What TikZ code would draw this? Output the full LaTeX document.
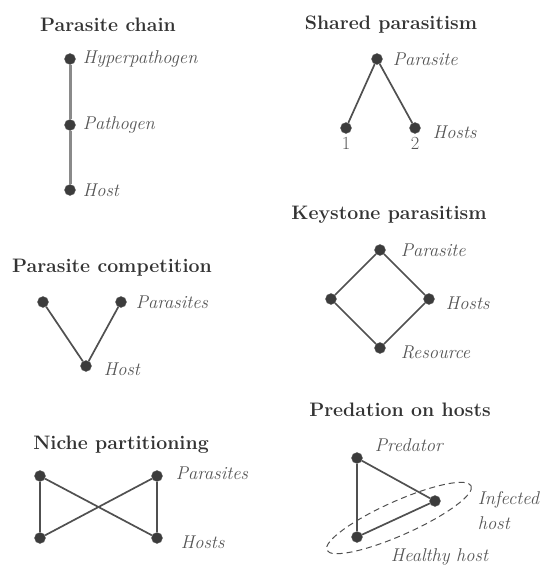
\documentclass[tikz,border=0pt]{standalone}
\usepackage{tikz}
\usetikzlibrary{positioning}
\definecolor{dotgray}{HTML}{3C3C3C}
\definecolor{edgegray}{HTML}{505050}
\definecolor{chaingray}{HTML}{8A8A8A}
\definecolor{lblgray}{HTML}{555555}

\begin{document}
\begin{tikzpicture}[x=1pt, y=-1pt,
  dot/.style={circle, fill=dotgray, draw=dotgray!80, inner sep=0pt, minimum size=11pt},
  lbl/.style={inner sep=0pt, text=lblgray, font=\fontsize{18.5}{25}\selectfont\itshape},
  ttl/.style={inner sep=0pt, text=black!80, font=\fontsize{19.5}{24}\selectfont\bfseries},
  edge/.style={line width=1.7pt, edgegray},
  chain/.style={line width=3pt, chaingray},
  halo/.style={line width=1pt, edgegray, dash pattern=on 6pt off 4pt}
]
\useasboundingbox (0,0) rectangle (544,566);

% Parasite chain
\node[ttl] (t1) at (108,25) {Parasite chain};
\node[dot] (hp) at (70,59) {};
\node[dot] (pa) at (70,125) {};
\node[dot] (ho) at (70,190) {};
\draw[chain] (hp)--(pa); \draw[chain] (pa)--(ho);
\node[lbl, right=7pt of hp] (hpL) {Hyperpathogen};
\node[lbl, right=7pt of pa] (paL) {Pathogen};
\node[lbl, right=7pt of ho] (hoL) {Host};

% Shared parasitism
\node[ttl] (t2) at (391,25) {Shared parasitism};
\node[dot] (sp) at (377,59) {};
\node[dot] (sh1) at (346,128) {};
\node[dot] (sh2) at (415,128) {};
\draw[edge] (sp)--(sh1); \draw[edge] (sp)--(sh2);
\node[lbl, right=10pt of sp] (spL) {Parasite};
\node[lbl, right=12pt of sh2, yshift=-4pt] (shL) {Hosts};
\node[lbl, font=\fontsize{18.5}{25}\selectfont, below=3pt of sh1] (n1) {1};
\node[lbl, font=\fontsize{18.5}{25}\selectfont, below=3pt of sh2] (n2) {2};

% Parasite competition
\node[ttl] (t3) at (112,268) {Parasite competition};
\node[dot] (cp1) at (43,302) {};
\node[dot] (cp2) at (121,302) {};
\node[dot] (ch) at (86,366) {};
\draw[edge] (cp1)--(ch); \draw[edge] (cp2)--(ch);
\node[lbl, right=9pt of cp2] (cpL) {Parasites};
\node[lbl, right=12pt of ch, yshift=-3pt] (chL) {Host};

% Keystone parasitism
\node[ttl] (t4) at (389,215) {Keystone parasitism};
\node[dot] (kp) at (380,250) {};
\node[dot] (kh1) at (331,299) {};
\node[dot] (kh2) at (429,299) {};
\node[dot] (kr) at (380,348) {};
\draw[edge] (kp)--(kh1); \draw[edge] (kp)--(kh2);
\draw[edge] (kh1)--(kr); \draw[edge] (kh2)--(kr);
\node[lbl, right=15pt of kp] (kpL) {Parasite};
\node[lbl, right=11pt of kh2, yshift=-4pt] (khL) {Hosts};
\node[lbl, right=15pt of kr, yshift=-4pt] (krL) {Resource};

% Niche partitioning
\node[ttl] (t5) at (121,445) {Niche partitioning};
\node[dot] (np1) at (40,476) {};
\node[dot] (np2) at (157,476) {};
\node[dot] (nh1) at (40,538) {};
\node[dot] (nh2) at (157,538) {};
\draw[edge] (np1)--(nh1); \draw[edge] (np2)--(nh2);
\draw[edge] (np1)--(nh2); \draw[edge] (np2)--(nh1);
\node[lbl, right=13pt of np2, yshift=3pt] (npL) {Parasites};
\node[lbl, right=18pt of nh2, yshift=-4pt] (nhL) {Hosts};

% Predation on hosts
\node[ttl] (t6) at (400,410) {Predation on hosts};
\node[dot] (pr) at (357,458) {};
\node[dot] (inf) at (435,501) {};
\node[dot] (hea) at (357,537) {};
\draw[edge] (pr)--(inf); \draw[edge] (pr)--(hea); \draw[edge] (inf)--(hea);
\draw[halo, rotate around={24:(399,518)}] (399,518) ellipse (79 and 17);
\node[lbl, right=12pt of pr, yshift=13pt] (prL) {Predator};
\node[lbl, align=left, right=37pt of inf, yshift=-10pt] (infL) {Infected\\host};
\node[lbl, right=28pt of hea, yshift=-20pt] (heaL) {Healthy host};
\end{tikzpicture}
\end{document}
